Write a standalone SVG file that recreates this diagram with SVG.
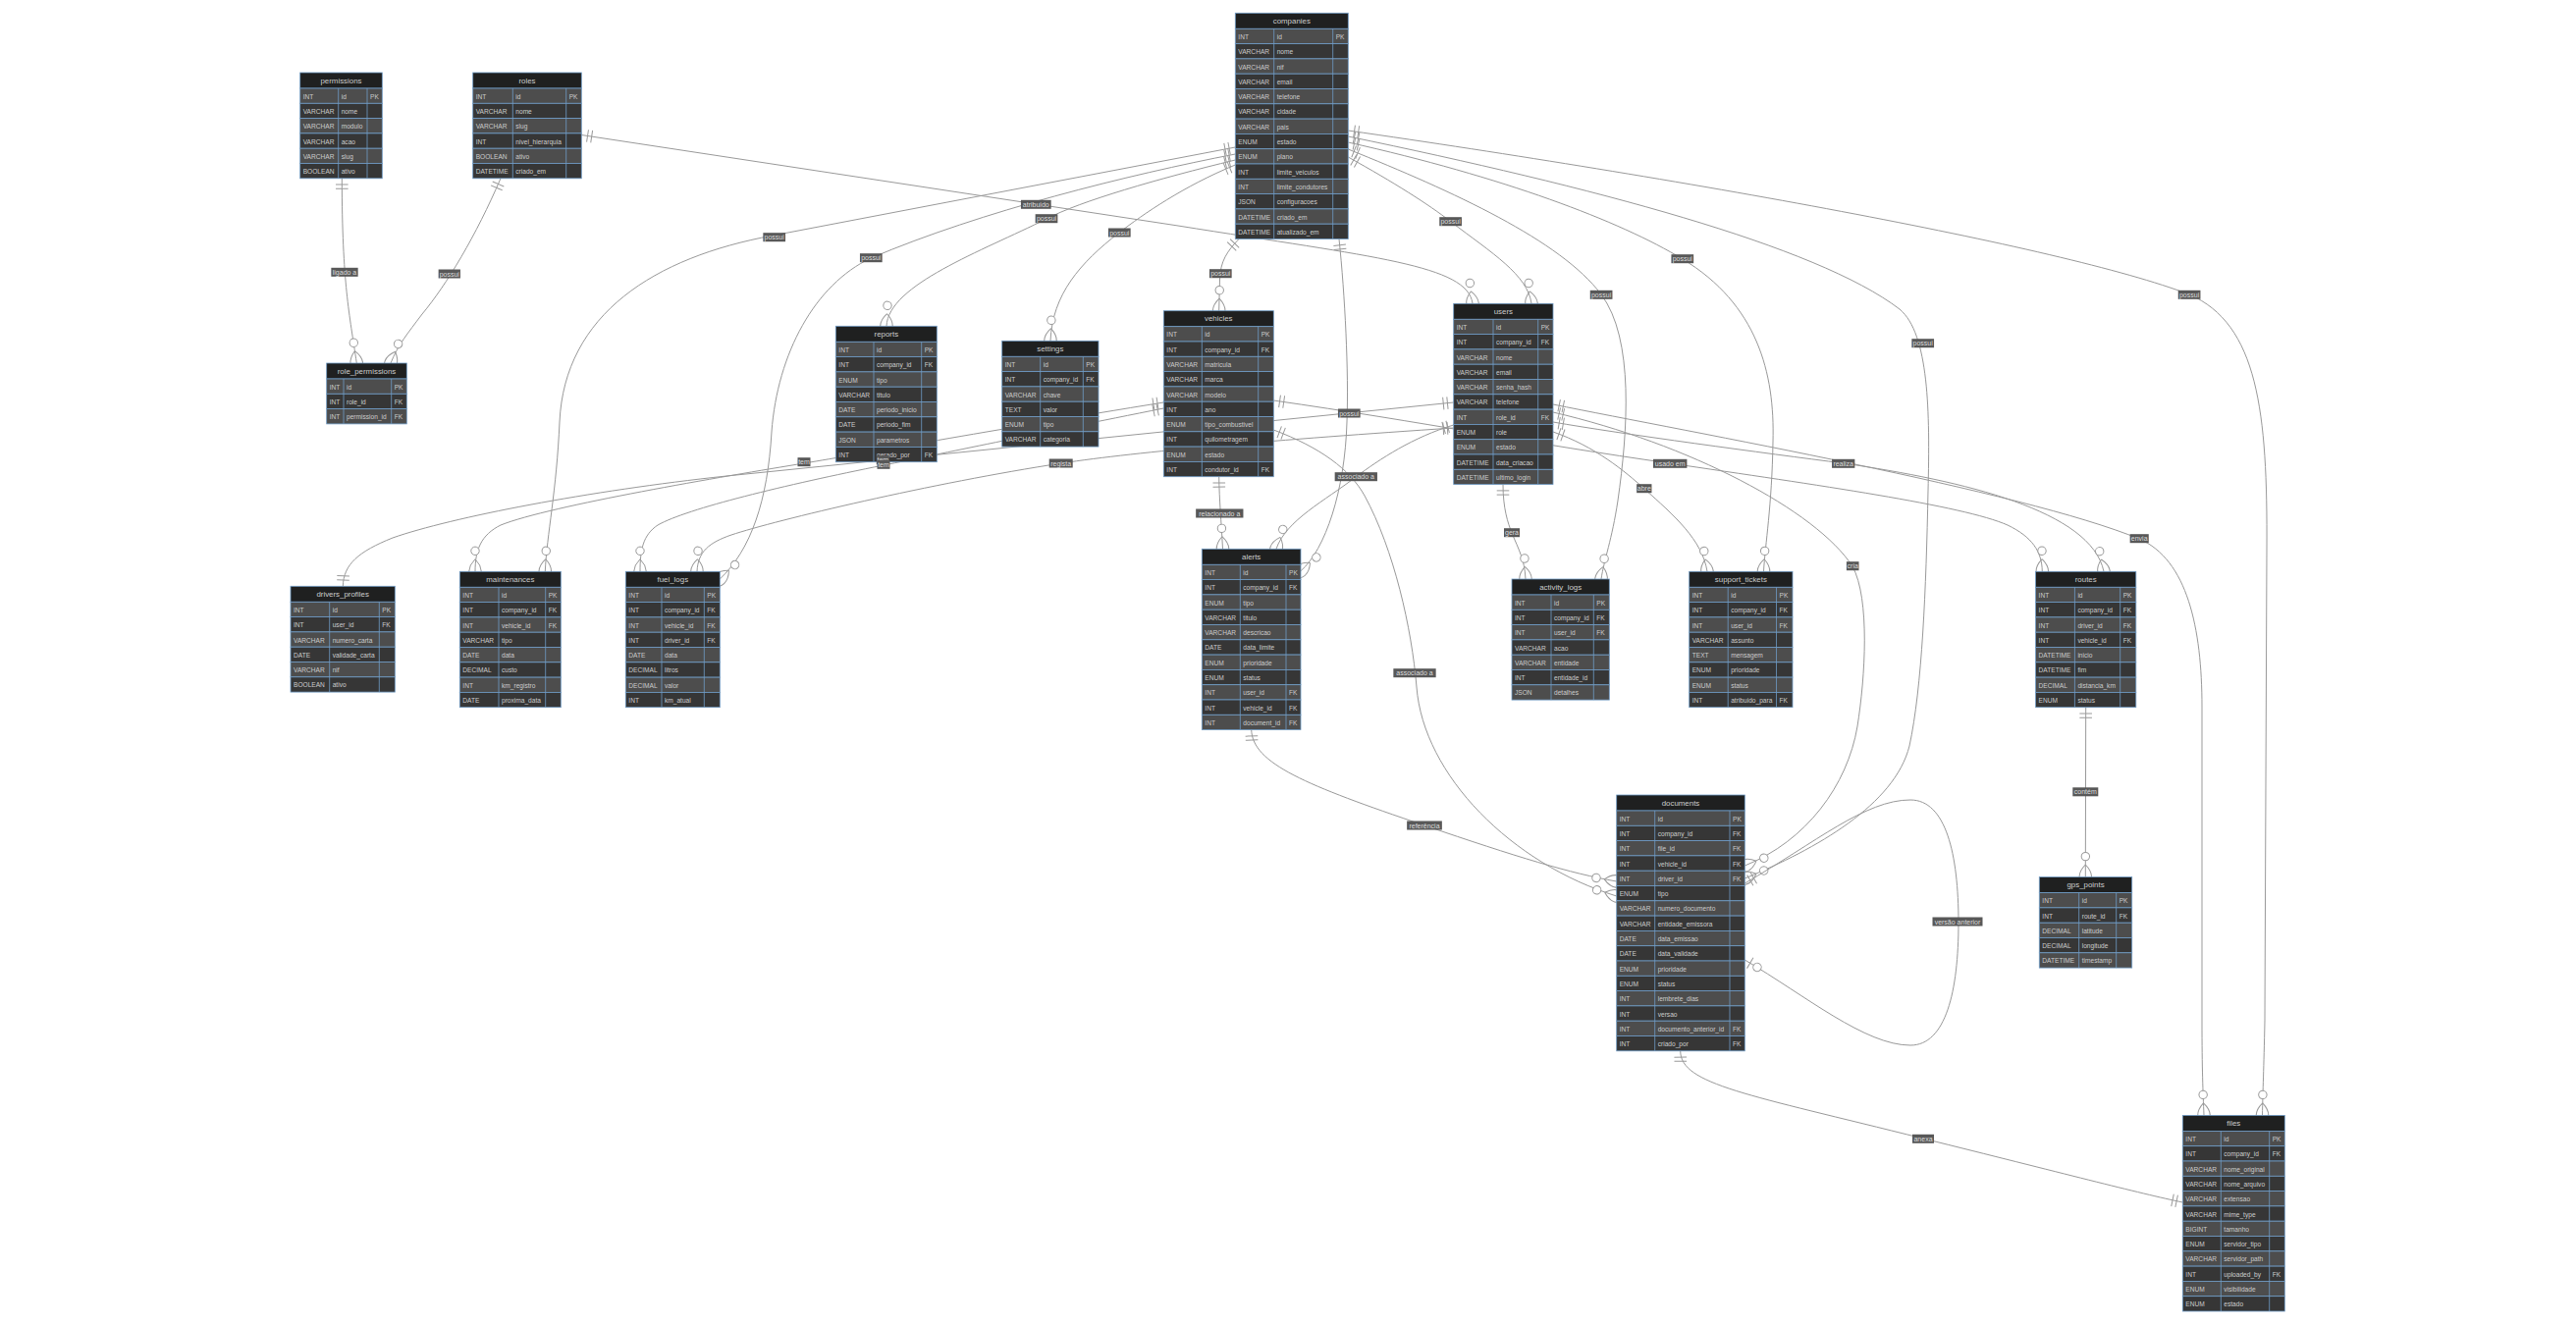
<svg xmlns="http://www.w3.org/2000/svg" width="2624" height="1350" viewBox="0 0 2624 1350">
<style>
.hd{fill:#1f2020;stroke:#6f9cc6;stroke-width:.8}
.o{fill:#4d4d4d;stroke:#6f9cc6;stroke-width:.8}
.e{fill:#363636;stroke:#6f9cc6;stroke-width:.8}
.dv{fill:none;stroke:#6f9cc6;stroke-width:.8}
.ht{font-family:"Liberation Sans",Arial,sans-serif;font-size:7.9px;fill:#cccccc;text-anchor:middle;dominant-baseline:central}
.t{font-family:"Liberation Sans",Arial,sans-serif;font-size:6.6px;fill:#cccccc;dominant-baseline:central}
.c path{fill:none;stroke:#999999;stroke-width:1}
.mk{fill:none;stroke:#999999;stroke-width:1}
.mc{fill:#ffffff;stroke:#999999;stroke-width:1}
.lb rect{fill:#585858}
.lb text{font-family:"Liberation Sans",Arial,sans-serif;font-size:7px;fill:#dddddd;text-anchor:middle;dominant-baseline:central}
</style>
<defs>
<marker id="mOne" markerUnits="userSpaceOnUse" orient="auto" overflow="visible" markerWidth="20" markerHeight="20" refX="0" refY="0"><path class="mk" d="M6.3,-6.3V6.3M10.5,-6.3V6.3"/></marker>
<marker id="mOneEnd" markerUnits="userSpaceOnUse" orient="auto" overflow="visible" markerWidth="20" markerHeight="20" refX="0" refY="0"><path class="mk" d="M-6.3,-6.3V6.3M-10.5,-6.3V6.3"/></marker>
<marker id="mMany" markerUnits="userSpaceOnUse" orient="auto" overflow="visible" markerWidth="40" markerHeight="40" refX="0" refY="0"><path class="mk" d="M-12.6,0Q0,-12.6 12.6,0Q0,12.6 -12.6,0"/><circle class="mc" cx="-21" cy="0" r="4.2"/></marker>
<marker id="mZeroOne" markerUnits="userSpaceOnUse" orient="auto" overflow="visible" markerWidth="30" markerHeight="30" refX="0" refY="0"><path class="mk" d="M-6.3,-6.3V6.3"/><circle class="mc" cx="-14.7" cy="0" r="4.2"/></marker>
</defs>
<rect width="2624" height="1350" fill="#ffffff"/>
<g id="connectors" class="c">
<path d="M348.3,181.7 C348.5,290 356,320 363.3,370" marker-start="url(#mOne)" marker-end="url(#mMany)"/>
<path d="M510,181.7 C485,240 455,290 430,320 C415,340 405,352 398,370" marker-start="url(#mOne)" marker-end="url(#mMany)"/>
<path d="M592.3,137.5 L1200,230 C1400,262 1495,270 1500,309.3" marker-start="url(#mOne)" marker-end="url(#mMany)"/>
<path d="M1258.3,150 L787,240 C667,262 575,320 570,430 C567,500 557,545 555.3,582.3" marker-start="url(#mOne)" marker-end="url(#mMany)"/>
<path d="M1258.3,157 C1150,178 1000,215 887,263 C830,290 792,360 786,440 C782,510 765,560 733.3,590" marker-start="url(#mOne)" marker-end="url(#mMany)"/>
<path d="M1258.3,163 C1180,182 1100,205 1066,223 C1000,256 905,290 903,332.3" marker-start="url(#mOne)" marker-end="url(#mMany)"/>
<path d="M1258.3,168 C1205,190 1165,218 1140,237 C1100,268 1072,300 1070,347.3" marker-start="url(#mOne)" marker-end="url(#mMany)"/>
<path d="M1262,243.5 C1250,256 1243,266 1242.5,285 L1241.7,316.7" marker-start="url(#mOne)" marker-end="url(#mMany)"/>
<path d="M1373.3,160 C1420,186 1455,208 1478,226 C1520,258 1556,280 1560,309.3" marker-start="url(#mOne)" marker-end="url(#mMany)"/>
<path d="M1373.3,152 C1480,195 1590,245 1631,300 C1665,345 1658,440 1648,510 C1642,550 1634,570 1631,590" marker-start="url(#mOne)" marker-end="url(#mMany)"/>
<path d="M1373.3,145 C1530,180 1650,225 1714,264 C1790,310 1808,380 1806,450 C1805,515 1798,555 1796.5,582.3" marker-start="url(#mOne)" marker-end="url(#mMany)"/>
<path d="M1373.3,139 C1620,190 1850,250 1935,315 C1965,340 1966,420 1964,500 C1962,600 1958,700 1945,760 C1930,820 1850,865 1777.3,895" marker-start="url(#mOne)" marker-end="url(#mMany)"/>
<path d="M1373.3,133 C1700,180 2100,250 2230,300 C2300,330 2310,420 2309,560 L2307,1040 C2306,1090 2305,1110 2304.5,1136.4" marker-start="url(#mOne)" marker-end="url(#mMany)"/>
<path d="M1364,243.5 C1370,300 1374,380 1372,430 C1370,500 1350,560 1325,581.7" marker-start="url(#mOne)" marker-end="url(#mMany)"/>
<path d="M1241.7,485.7 C1242,510 1244,530 1245.5,559.3" marker-start="url(#mOne)" marker-end="url(#mMany)"/>
<path d="M1480.7,433 C1440,445 1405,468 1381,486 C1350,510 1310,530 1300,559.3" marker-start="url(#mOne)" marker-end="url(#mMany)"/>
<path d="M1297.3,438 C1345,456 1375,478 1390,505 C1420,560 1438,640 1443,700 C1450,790 1540,880 1646.7,913" marker-start="url(#mOne)" marker-end="url(#mMany)"/>
<path d="M1274.7,743.6 C1276,778 1330,800 1451,841 C1545,873 1600,890 1646.7,898" marker-start="url(#mOne)" marker-end="url(#mMany)"/>
<path d="M1480.7,410 L740,485 C600,500 460,527 400,548 C365,562 350,575 349.3,597.3" marker-start="url(#mOne)" marker-end="url(#mOneEnd)"/>
<path d="M1185.3,410 C1000,440 880,462 819,472 C740,485 560,515 510,535 C490,545 484,560 484,582.3" marker-start="url(#mOne)" marker-end="url(#mMany)"/>
<path d="M1185.3,416 C1050,443 960,462 900,474 C800,494 700,518 670,535 C655,545 652,560 652,582.3" marker-start="url(#mOne)" marker-end="url(#mMany)"/>
<path d="M1480.7,436 C1300,448 1160,460 1081,472 C950,492 790,530 745,545 C722,553 711,562 710,582.3" marker-start="url(#mOne)" marker-end="url(#mMany)"/>
<path d="M1531,493.6 C1531,518 1536,533 1540,543 C1547,560 1553,570 1554,590" marker-start="url(#mOne)" marker-end="url(#mMany)"/>
<path d="M1582,440 C1625,455 1655,480 1675,498 C1705,525 1734,550 1739,582.3" marker-start="url(#mOne)" marker-end="url(#mMany)"/>
<path d="M1582,430 C1650,442 1800,462 1878,472 C2000,490 2130,520 2143,582.3" marker-start="url(#mOne)" marker-end="url(#mMany)"/>
<path d="M1297.3,408 C1450,430 1560,452 1701,472 C1850,494 2000,515 2045,535 C2070,547 2080,562 2080.3,582.3" marker-start="url(#mOne)" marker-end="url(#mMany)"/>
<path d="M1582,420 C1720,452 1850,520 1887,577 C1905,610 1900,690 1892,740 C1882,800 1840,857 1777.3,882" marker-start="url(#mOne)" marker-end="url(#mMany)"/>
<path d="M1582,412 C1720,440 2060,500 2179,549 C2228,570 2243,640 2243,720 L2243,1040 C2243,1090 2244,1112 2245,1136.4" marker-start="url(#mOne)" marker-end="url(#mMany)"/>
<path d="M2124.7,720.7 L2124.3,893.6" marker-start="url(#mOne)" marker-end="url(#mMany)"/>
<path d="M1711.7,1070.8 C1712,1105 1780,1115 1959,1160 C2100,1195 2180,1216 2223.3,1225" marker-start="url(#mOne)" marker-end="url(#mOneEnd)"/>
<path d="M1777.3,900 C1850,858 1900,815 1946,815 C1982,815 1995,870 1995,940 C1995,1010 1982,1065 1946,1065 C1900,1065 1840,1015 1777.3,978" marker-start="url(#mOne)" marker-end="url(#mZeroOne)"/>
</g>
<g id="permissions" transform="translate(305.7,74)">
<rect class="hd" width="83.6" height="16"/><text class="ht" x="41.8" y="8">permissions</text>
<rect class="o" y="16" width="83.6" height="15.3"/><text class="t" y="23.65"><tspan x="3">INT</tspan><tspan x="42">id</tspan><tspan x="71.3">PK</tspan></text>
<rect class="e" y="31.3" width="83.6" height="15.3"/><text class="t" y="38.95"><tspan x="3">VARCHAR</tspan><tspan x="42">nome</tspan></text>
<rect class="o" y="46.6" width="83.6" height="15.3"/><text class="t" y="54.25"><tspan x="3">VARCHAR</tspan><tspan x="42">modulo</tspan></text>
<rect class="e" y="61.9" width="83.6" height="15.3"/><text class="t" y="69.55"><tspan x="3">VARCHAR</tspan><tspan x="42">acao</tspan></text>
<rect class="o" y="77.2" width="83.6" height="15.3"/><text class="t" y="84.85"><tspan x="3">VARCHAR</tspan><tspan x="42">slug</tspan></text>
<rect class="e" y="92.5" width="83.6" height="15.3"/><text class="t" y="100.15"><tspan x="3">BOOLEAN</tspan><tspan x="42">ativo</tspan></text>
<path class="dv" d="M39,16V107.8M68.3,16V107.8"/>
</g>
<g id="roles" transform="translate(481.7,74)">
<rect class="hd" width="110.6" height="16"/><text class="ht" x="55.3" y="8">roles</text>
<rect class="o" y="16" width="110.6" height="15.3"/><text class="t" y="23.65"><tspan x="3">INT</tspan><tspan x="43.6">id</tspan><tspan x="98">PK</tspan></text>
<rect class="e" y="31.3" width="110.6" height="15.3"/><text class="t" y="38.95"><tspan x="3">VARCHAR</tspan><tspan x="43.6">nome</tspan></text>
<rect class="o" y="46.6" width="110.6" height="15.3"/><text class="t" y="54.25"><tspan x="3">VARCHAR</tspan><tspan x="43.6">slug</tspan></text>
<rect class="e" y="61.9" width="110.6" height="15.3"/><text class="t" y="69.55"><tspan x="3">INT</tspan><tspan x="43.6">nivel_hierarquia</tspan></text>
<rect class="o" y="77.2" width="110.6" height="15.3"/><text class="t" y="84.85"><tspan x="3">BOOLEAN</tspan><tspan x="43.6">ativo</tspan></text>
<rect class="e" y="92.5" width="110.6" height="15.3"/><text class="t" y="100.15"><tspan x="3">DATETIME</tspan><tspan x="43.6">criado_em</tspan></text>
<path class="dv" d="M40.6,16V107.8M95,16V107.8"/>
</g>
<g id="role_permissions" transform="translate(332.7,370)">
<rect class="hd" width="81.6" height="16"/><text class="ht" x="40.8" y="8">role_permissions</text>
<rect class="o" y="16" width="81.6" height="15.3"/><text class="t" y="23.65"><tspan x="3">INT</tspan><tspan x="20.3">id</tspan><tspan x="69">PK</tspan></text>
<rect class="e" y="31.3" width="81.6" height="15.3"/><text class="t" y="38.95"><tspan x="3">INT</tspan><tspan x="20.3">role_id</tspan><tspan x="69">FK</tspan></text>
<rect class="o" y="46.6" width="81.6" height="15.3"/><text class="t" y="54.25"><tspan x="3">INT</tspan><tspan x="20.3">permission_id</tspan><tspan x="69">FK</tspan></text>
<path class="dv" d="M17.3,16V61.9M66,16V61.9"/>
</g>
<g id="companies" transform="translate(1258.3,13.3)">
<rect class="hd" width="115" height="16"/><text class="ht" x="57.5" y="8">companies</text>
<rect class="o" y="16" width="115" height="15.3"/><text class="t" y="23.65"><tspan x="3">INT</tspan><tspan x="42.4">id</tspan><tspan x="102.4">PK</tspan></text>
<rect class="e" y="31.3" width="115" height="15.3"/><text class="t" y="38.95"><tspan x="3">VARCHAR</tspan><tspan x="42.4">nome</tspan></text>
<rect class="o" y="46.6" width="115" height="15.3"/><text class="t" y="54.25"><tspan x="3">VARCHAR</tspan><tspan x="42.4">nif</tspan></text>
<rect class="e" y="61.9" width="115" height="15.3"/><text class="t" y="69.55"><tspan x="3">VARCHAR</tspan><tspan x="42.4">email</tspan></text>
<rect class="o" y="77.2" width="115" height="15.3"/><text class="t" y="84.85"><tspan x="3">VARCHAR</tspan><tspan x="42.4">telefone</tspan></text>
<rect class="e" y="92.5" width="115" height="15.3"/><text class="t" y="100.15"><tspan x="3">VARCHAR</tspan><tspan x="42.4">cidade</tspan></text>
<rect class="o" y="107.8" width="115" height="15.3"/><text class="t" y="115.45"><tspan x="3">VARCHAR</tspan><tspan x="42.4">pais</tspan></text>
<rect class="e" y="123.1" width="115" height="15.3"/><text class="t" y="130.75"><tspan x="3">ENUM</tspan><tspan x="42.4">estado</tspan></text>
<rect class="o" y="138.4" width="115" height="15.3"/><text class="t" y="146.05"><tspan x="3">ENUM</tspan><tspan x="42.4">plano</tspan></text>
<rect class="e" y="153.7" width="115" height="15.3"/><text class="t" y="161.35"><tspan x="3">INT</tspan><tspan x="42.4">limite_veiculos</tspan></text>
<rect class="o" y="169" width="115" height="15.3"/><text class="t" y="176.65"><tspan x="3">INT</tspan><tspan x="42.4">limite_condutores</tspan></text>
<rect class="e" y="184.3" width="115" height="15.3"/><text class="t" y="191.95"><tspan x="3">JSON</tspan><tspan x="42.4">configuracoes</tspan></text>
<rect class="o" y="199.6" width="115" height="15.3"/><text class="t" y="207.25"><tspan x="3">DATETIME</tspan><tspan x="42.4">criado_em</tspan></text>
<rect class="e" y="214.9" width="115" height="15.3"/><text class="t" y="222.55"><tspan x="3">DATETIME</tspan><tspan x="42.4">atualizado_em</tspan></text>
<path class="dv" d="M39.4,16V230.2M99.4,16V230.2"/>
</g>
<g id="reports" transform="translate(851.3,332.3)">
<rect class="hd" width="103" height="16"/><text class="ht" x="51.5" y="8">reports</text>
<rect class="o" y="16" width="103" height="15.3"/><text class="t" y="23.65"><tspan x="3">INT</tspan><tspan x="41.7">id</tspan><tspan x="90.4">PK</tspan></text>
<rect class="e" y="31.3" width="103" height="15.3"/><text class="t" y="38.95"><tspan x="3">INT</tspan><tspan x="41.7">company_id</tspan><tspan x="90.4">FK</tspan></text>
<rect class="o" y="46.6" width="103" height="15.3"/><text class="t" y="54.25"><tspan x="3">ENUM</tspan><tspan x="41.7">tipo</tspan></text>
<rect class="e" y="61.9" width="103" height="15.3"/><text class="t" y="69.55"><tspan x="3">VARCHAR</tspan><tspan x="41.7">titulo</tspan></text>
<rect class="o" y="77.2" width="103" height="15.3"/><text class="t" y="84.85"><tspan x="3">DATE</tspan><tspan x="41.7">periodo_inicio</tspan></text>
<rect class="e" y="92.5" width="103" height="15.3"/><text class="t" y="100.15"><tspan x="3">DATE</tspan><tspan x="41.7">periodo_fim</tspan></text>
<rect class="o" y="107.8" width="103" height="15.3"/><text class="t" y="115.45"><tspan x="3">JSON</tspan><tspan x="41.7">parametros</tspan></text>
<rect class="e" y="123.1" width="103" height="15.3"/><text class="t" y="130.75"><tspan x="3">INT</tspan><tspan x="41.7">gerado_por</tspan><tspan x="90.4">FK</tspan></text>
<path class="dv" d="M38.7,16V138.4M87.4,16V138.4"/>
</g>
<g id="settings" transform="translate(1020.7,347.3)">
<rect class="hd" width="98.3" height="16"/><text class="ht" x="49.15" y="8">settings</text>
<rect class="o" y="16" width="98.3" height="15.3"/><text class="t" y="23.65"><tspan x="3">INT</tspan><tspan x="42">id</tspan><tspan x="85.6">PK</tspan></text>
<rect class="e" y="31.3" width="98.3" height="15.3"/><text class="t" y="38.95"><tspan x="3">INT</tspan><tspan x="42">company_id</tspan><tspan x="85.6">FK</tspan></text>
<rect class="o" y="46.6" width="98.3" height="15.3"/><text class="t" y="54.25"><tspan x="3">VARCHAR</tspan><tspan x="42">chave</tspan></text>
<rect class="e" y="61.9" width="98.3" height="15.3"/><text class="t" y="69.55"><tspan x="3">TEXT</tspan><tspan x="42">valor</tspan></text>
<rect class="o" y="77.2" width="98.3" height="15.3"/><text class="t" y="84.85"><tspan x="3">ENUM</tspan><tspan x="42">tipo</tspan></text>
<rect class="e" y="92.5" width="98.3" height="15.3"/><text class="t" y="100.15"><tspan x="3">VARCHAR</tspan><tspan x="42">categoria</tspan></text>
<path class="dv" d="M39,16V107.8M82.6,16V107.8"/>
</g>
<g id="vehicles" transform="translate(1185.3,316.7)">
<rect class="hd" width="112" height="16"/><text class="ht" x="56" y="8">vehicles</text>
<rect class="o" y="16" width="112" height="15.3"/><text class="t" y="23.65"><tspan x="3">INT</tspan><tspan x="42">id</tspan><tspan x="99.4">PK</tspan></text>
<rect class="e" y="31.3" width="112" height="15.3"/><text class="t" y="38.95"><tspan x="3">INT</tspan><tspan x="42">company_id</tspan><tspan x="99.4">FK</tspan></text>
<rect class="o" y="46.6" width="112" height="15.3"/><text class="t" y="54.25"><tspan x="3">VARCHAR</tspan><tspan x="42">matricula</tspan></text>
<rect class="e" y="61.9" width="112" height="15.3"/><text class="t" y="69.55"><tspan x="3">VARCHAR</tspan><tspan x="42">marca</tspan></text>
<rect class="o" y="77.2" width="112" height="15.3"/><text class="t" y="84.85"><tspan x="3">VARCHAR</tspan><tspan x="42">modelo</tspan></text>
<rect class="e" y="92.5" width="112" height="15.3"/><text class="t" y="100.15"><tspan x="3">INT</tspan><tspan x="42">ano</tspan></text>
<rect class="o" y="107.8" width="112" height="15.3"/><text class="t" y="115.45"><tspan x="3">ENUM</tspan><tspan x="42">tipo_combustivel</tspan></text>
<rect class="e" y="123.1" width="112" height="15.3"/><text class="t" y="130.75"><tspan x="3">INT</tspan><tspan x="42">quilometragem</tspan></text>
<rect class="o" y="138.4" width="112" height="15.3"/><text class="t" y="146.05"><tspan x="3">ENUM</tspan><tspan x="42">estado</tspan></text>
<rect class="e" y="153.7" width="112" height="15.3"/><text class="t" y="161.35"><tspan x="3">INT</tspan><tspan x="42">condutor_id</tspan><tspan x="99.4">FK</tspan></text>
<path class="dv" d="M39,16V169M96.4,16V169"/>
</g>
<g id="users" transform="translate(1480.7,309.3)">
<rect class="hd" width="101.3" height="16"/><text class="ht" x="50.65" y="8">users</text>
<rect class="o" y="16" width="101.3" height="15.3"/><text class="t" y="23.65"><tspan x="3">INT</tspan><tspan x="43.3">id</tspan><tspan x="89">PK</tspan></text>
<rect class="e" y="31.3" width="101.3" height="15.3"/><text class="t" y="38.95"><tspan x="3">INT</tspan><tspan x="43.3">company_id</tspan><tspan x="89">FK</tspan></text>
<rect class="o" y="46.6" width="101.3" height="15.3"/><text class="t" y="54.25"><tspan x="3">VARCHAR</tspan><tspan x="43.3">nome</tspan></text>
<rect class="e" y="61.9" width="101.3" height="15.3"/><text class="t" y="69.55"><tspan x="3">VARCHAR</tspan><tspan x="43.3">email</tspan></text>
<rect class="o" y="77.2" width="101.3" height="15.3"/><text class="t" y="84.85"><tspan x="3">VARCHAR</tspan><tspan x="43.3">senha_hash</tspan></text>
<rect class="e" y="92.5" width="101.3" height="15.3"/><text class="t" y="100.15"><tspan x="3">VARCHAR</tspan><tspan x="43.3">telefone</tspan></text>
<rect class="o" y="107.8" width="101.3" height="15.3"/><text class="t" y="115.45"><tspan x="3">INT</tspan><tspan x="43.3">role_id</tspan><tspan x="89">FK</tspan></text>
<rect class="e" y="123.1" width="101.3" height="15.3"/><text class="t" y="130.75"><tspan x="3">ENUM</tspan><tspan x="43.3">role</tspan></text>
<rect class="o" y="138.4" width="101.3" height="15.3"/><text class="t" y="146.05"><tspan x="3">ENUM</tspan><tspan x="43.3">estado</tspan></text>
<rect class="e" y="153.7" width="101.3" height="15.3"/><text class="t" y="161.35"><tspan x="3">DATETIME</tspan><tspan x="43.3">data_criacao</tspan></text>
<rect class="o" y="169" width="101.3" height="15.3"/><text class="t" y="176.65"><tspan x="3">DATETIME</tspan><tspan x="43.3">ultimo_login</tspan></text>
<path class="dv" d="M40.3,16V184.3M86,16V184.3"/>
</g>
<g id="drivers_profiles" transform="translate(296,597.3)">
<rect class="hd" width="106.3" height="16"/><text class="ht" x="53.15" y="8">drivers_profiles</text>
<rect class="o" y="16" width="106.3" height="15.3"/><text class="t" y="23.65"><tspan x="3">INT</tspan><tspan x="42.7">id</tspan><tspan x="93.3">PK</tspan></text>
<rect class="e" y="31.3" width="106.3" height="15.3"/><text class="t" y="38.95"><tspan x="3">INT</tspan><tspan x="42.7">user_id</tspan><tspan x="93.3">FK</tspan></text>
<rect class="o" y="46.6" width="106.3" height="15.3"/><text class="t" y="54.25"><tspan x="3">VARCHAR</tspan><tspan x="42.7">numero_carta</tspan></text>
<rect class="e" y="61.9" width="106.3" height="15.3"/><text class="t" y="69.55"><tspan x="3">DATE</tspan><tspan x="42.7">validade_carta</tspan></text>
<rect class="o" y="77.2" width="106.3" height="15.3"/><text class="t" y="84.85"><tspan x="3">VARCHAR</tspan><tspan x="42.7">nif</tspan></text>
<rect class="e" y="92.5" width="106.3" height="15.3"/><text class="t" y="100.15"><tspan x="3">BOOLEAN</tspan><tspan x="42.7">ativo</tspan></text>
<path class="dv" d="M39.7,16V107.8M90.3,16V107.8"/>
</g>
<g id="maintenances" transform="translate(468.3,582.3)">
<rect class="hd" width="103" height="16"/><text class="ht" x="51.5" y="8">maintenances</text>
<rect class="o" y="16" width="103" height="15.3"/><text class="t" y="23.65"><tspan x="3">INT</tspan><tspan x="42.7">id</tspan><tspan x="90.4">PK</tspan></text>
<rect class="e" y="31.3" width="103" height="15.3"/><text class="t" y="38.95"><tspan x="3">INT</tspan><tspan x="42.7">company_id</tspan><tspan x="90.4">FK</tspan></text>
<rect class="o" y="46.6" width="103" height="15.3"/><text class="t" y="54.25"><tspan x="3">INT</tspan><tspan x="42.7">vehicle_id</tspan><tspan x="90.4">FK</tspan></text>
<rect class="e" y="61.9" width="103" height="15.3"/><text class="t" y="69.55"><tspan x="3">VARCHAR</tspan><tspan x="42.7">tipo</tspan></text>
<rect class="o" y="77.2" width="103" height="15.3"/><text class="t" y="84.85"><tspan x="3">DATE</tspan><tspan x="42.7">data</tspan></text>
<rect class="e" y="92.5" width="103" height="15.3"/><text class="t" y="100.15"><tspan x="3">DECIMAL</tspan><tspan x="42.7">custo</tspan></text>
<rect class="o" y="107.8" width="103" height="15.3"/><text class="t" y="115.45"><tspan x="3">INT</tspan><tspan x="42.7">km_registro</tspan></text>
<rect class="e" y="123.1" width="103" height="15.3"/><text class="t" y="130.75"><tspan x="3">DATE</tspan><tspan x="42.7">proxima_data</tspan></text>
<path class="dv" d="M39.7,16V138.4M87.4,16V138.4"/>
</g>
<g id="fuel_logs" transform="translate(637.3,582.3)">
<rect class="hd" width="96" height="16"/><text class="ht" x="48" y="8">fuel_logs</text>
<rect class="o" y="16" width="96" height="15.3"/><text class="t" y="23.65"><tspan x="3">INT</tspan><tspan x="39.7">id</tspan><tspan x="83">PK</tspan></text>
<rect class="e" y="31.3" width="96" height="15.3"/><text class="t" y="38.95"><tspan x="3">INT</tspan><tspan x="39.7">company_id</tspan><tspan x="83">FK</tspan></text>
<rect class="o" y="46.6" width="96" height="15.3"/><text class="t" y="54.25"><tspan x="3">INT</tspan><tspan x="39.7">vehicle_id</tspan><tspan x="83">FK</tspan></text>
<rect class="e" y="61.9" width="96" height="15.3"/><text class="t" y="69.55"><tspan x="3">INT</tspan><tspan x="39.7">driver_id</tspan><tspan x="83">FK</tspan></text>
<rect class="o" y="77.2" width="96" height="15.3"/><text class="t" y="84.85"><tspan x="3">DATE</tspan><tspan x="39.7">data</tspan></text>
<rect class="e" y="92.5" width="96" height="15.3"/><text class="t" y="100.15"><tspan x="3">DECIMAL</tspan><tspan x="39.7">litros</tspan></text>
<rect class="o" y="107.8" width="96" height="15.3"/><text class="t" y="115.45"><tspan x="3">DECIMAL</tspan><tspan x="39.7">valor</tspan></text>
<rect class="e" y="123.1" width="96" height="15.3"/><text class="t" y="130.75"><tspan x="3">INT</tspan><tspan x="39.7">km_atual</tspan></text>
<path class="dv" d="M36.7,16V138.4M80,16V138.4"/>
</g>
<g id="alerts" transform="translate(1224.3,559.3)">
<rect class="hd" width="100.7" height="16"/><text class="ht" x="50.35" y="8">alerts</text>
<rect class="o" y="16" width="100.7" height="15.3"/><text class="t" y="23.65"><tspan x="3">INT</tspan><tspan x="42">id</tspan><tspan x="88.7">PK</tspan></text>
<rect class="e" y="31.3" width="100.7" height="15.3"/><text class="t" y="38.95"><tspan x="3">INT</tspan><tspan x="42">company_id</tspan><tspan x="88.7">FK</tspan></text>
<rect class="o" y="46.6" width="100.7" height="15.3"/><text class="t" y="54.25"><tspan x="3">ENUM</tspan><tspan x="42">tipo</tspan></text>
<rect class="e" y="61.9" width="100.7" height="15.3"/><text class="t" y="69.55"><tspan x="3">VARCHAR</tspan><tspan x="42">titulo</tspan></text>
<rect class="o" y="77.2" width="100.7" height="15.3"/><text class="t" y="84.85"><tspan x="3">VARCHAR</tspan><tspan x="42">descricao</tspan></text>
<rect class="e" y="92.5" width="100.7" height="15.3"/><text class="t" y="100.15"><tspan x="3">DATE</tspan><tspan x="42">data_limite</tspan></text>
<rect class="o" y="107.8" width="100.7" height="15.3"/><text class="t" y="115.45"><tspan x="3">ENUM</tspan><tspan x="42">prioridade</tspan></text>
<rect class="e" y="123.1" width="100.7" height="15.3"/><text class="t" y="130.75"><tspan x="3">ENUM</tspan><tspan x="42">status</tspan></text>
<rect class="o" y="138.4" width="100.7" height="15.3"/><text class="t" y="146.05"><tspan x="3">INT</tspan><tspan x="42">user_id</tspan><tspan x="88.7">FK</tspan></text>
<rect class="e" y="153.7" width="100.7" height="15.3"/><text class="t" y="161.35"><tspan x="3">INT</tspan><tspan x="42">vehicle_id</tspan><tspan x="88.7">FK</tspan></text>
<rect class="o" y="169" width="100.7" height="15.3"/><text class="t" y="176.65"><tspan x="3">INT</tspan><tspan x="42">document_id</tspan><tspan x="88.7">FK</tspan></text>
<path class="dv" d="M39,16V184.3M85.7,16V184.3"/>
</g>
<g id="activity_logs" transform="translate(1540,590)">
<rect class="hd" width="99.3" height="16"/><text class="ht" x="49.65" y="8">activity_logs</text>
<rect class="o" y="16" width="99.3" height="15.3"/><text class="t" y="23.65"><tspan x="3">INT</tspan><tspan x="43">id</tspan><tspan x="86.3">PK</tspan></text>
<rect class="e" y="31.3" width="99.3" height="15.3"/><text class="t" y="38.95"><tspan x="3">INT</tspan><tspan x="43">company_id</tspan><tspan x="86.3">FK</tspan></text>
<rect class="o" y="46.6" width="99.3" height="15.3"/><text class="t" y="54.25"><tspan x="3">INT</tspan><tspan x="43">user_id</tspan><tspan x="86.3">FK</tspan></text>
<rect class="e" y="61.9" width="99.3" height="15.3"/><text class="t" y="69.55"><tspan x="3">VARCHAR</tspan><tspan x="43">acao</tspan></text>
<rect class="o" y="77.2" width="99.3" height="15.3"/><text class="t" y="84.85"><tspan x="3">VARCHAR</tspan><tspan x="43">entidade</tspan></text>
<rect class="e" y="92.5" width="99.3" height="15.3"/><text class="t" y="100.15"><tspan x="3">INT</tspan><tspan x="43">entidade_id</tspan></text>
<rect class="o" y="107.8" width="99.3" height="15.3"/><text class="t" y="115.45"><tspan x="3">JSON</tspan><tspan x="43">detalhes</tspan></text>
<path class="dv" d="M40,16V123.1M83.3,16V123.1"/>
</g>
<g id="support_tickets" transform="translate(1720.7,582.3)">
<rect class="hd" width="105.3" height="16"/><text class="ht" x="52.65" y="8">support_tickets</text>
<rect class="o" y="16" width="105.3" height="15.3"/><text class="t" y="23.65"><tspan x="3">INT</tspan><tspan x="42.5">id</tspan><tspan x="91.8">PK</tspan></text>
<rect class="e" y="31.3" width="105.3" height="15.3"/><text class="t" y="38.95"><tspan x="3">INT</tspan><tspan x="42.5">company_id</tspan><tspan x="91.8">FK</tspan></text>
<rect class="o" y="46.6" width="105.3" height="15.3"/><text class="t" y="54.25"><tspan x="3">INT</tspan><tspan x="42.5">user_id</tspan><tspan x="91.8">FK</tspan></text>
<rect class="e" y="61.9" width="105.3" height="15.3"/><text class="t" y="69.55"><tspan x="3">VARCHAR</tspan><tspan x="42.5">assunto</tspan></text>
<rect class="o" y="77.2" width="105.3" height="15.3"/><text class="t" y="84.85"><tspan x="3">TEXT</tspan><tspan x="42.5">mensagem</tspan></text>
<rect class="e" y="92.5" width="105.3" height="15.3"/><text class="t" y="100.15"><tspan x="3">ENUM</tspan><tspan x="42.5">prioridade</tspan></text>
<rect class="o" y="107.8" width="105.3" height="15.3"/><text class="t" y="115.45"><tspan x="3">ENUM</tspan><tspan x="42.5">status</tspan></text>
<rect class="e" y="123.1" width="105.3" height="15.3"/><text class="t" y="130.75"><tspan x="3">INT</tspan><tspan x="42.5">atribuido_para</tspan><tspan x="91.8">FK</tspan></text>
<path class="dv" d="M39.5,16V138.4M88.8,16V138.4"/>
</g>
<g id="routes" transform="translate(2073.6,582.3)">
<rect class="hd" width="102.2" height="16"/><text class="ht" x="51.1" y="8">routes</text>
<rect class="o" y="16" width="102.2" height="15.3"/><text class="t" y="23.65"><tspan x="3">INT</tspan><tspan x="42.8">id</tspan><tspan x="89.1">PK</tspan></text>
<rect class="e" y="31.3" width="102.2" height="15.3"/><text class="t" y="38.95"><tspan x="3">INT</tspan><tspan x="42.8">company_id</tspan><tspan x="89.1">FK</tspan></text>
<rect class="o" y="46.6" width="102.2" height="15.3"/><text class="t" y="54.25"><tspan x="3">INT</tspan><tspan x="42.8">driver_id</tspan><tspan x="89.1">FK</tspan></text>
<rect class="e" y="61.9" width="102.2" height="15.3"/><text class="t" y="69.55"><tspan x="3">INT</tspan><tspan x="42.8">vehicle_id</tspan><tspan x="89.1">FK</tspan></text>
<rect class="o" y="77.2" width="102.2" height="15.3"/><text class="t" y="84.85"><tspan x="3">DATETIME</tspan><tspan x="42.8">inicio</tspan></text>
<rect class="e" y="92.5" width="102.2" height="15.3"/><text class="t" y="100.15"><tspan x="3">DATETIME</tspan><tspan x="42.8">fim</tspan></text>
<rect class="o" y="107.8" width="102.2" height="15.3"/><text class="t" y="115.45"><tspan x="3">DECIMAL</tspan><tspan x="42.8">distancia_km</tspan></text>
<rect class="e" y="123.1" width="102.2" height="15.3"/><text class="t" y="130.75"><tspan x="3">ENUM</tspan><tspan x="42.8">status</tspan></text>
<path class="dv" d="M39.8,16V138.4M86.1,16V138.4"/>
</g>
<g id="documents" transform="translate(1646.7,810)">
<rect class="hd" width="130.6" height="16"/><text class="ht" x="65.3" y="8">documents</text>
<rect class="o" y="16" width="130.6" height="15.3"/><text class="t" y="23.65"><tspan x="3">INT</tspan><tspan x="42">id</tspan><tspan x="118.3">PK</tspan></text>
<rect class="e" y="31.3" width="130.6" height="15.3"/><text class="t" y="38.95"><tspan x="3">INT</tspan><tspan x="42">company_id</tspan><tspan x="118.3">FK</tspan></text>
<rect class="o" y="46.6" width="130.6" height="15.3"/><text class="t" y="54.25"><tspan x="3">INT</tspan><tspan x="42">file_id</tspan><tspan x="118.3">FK</tspan></text>
<rect class="e" y="61.9" width="130.6" height="15.3"/><text class="t" y="69.55"><tspan x="3">INT</tspan><tspan x="42">vehicle_id</tspan><tspan x="118.3">FK</tspan></text>
<rect class="o" y="77.2" width="130.6" height="15.3"/><text class="t" y="84.85"><tspan x="3">INT</tspan><tspan x="42">driver_id</tspan><tspan x="118.3">FK</tspan></text>
<rect class="e" y="92.5" width="130.6" height="15.3"/><text class="t" y="100.15"><tspan x="3">ENUM</tspan><tspan x="42">tipo</tspan></text>
<rect class="o" y="107.8" width="130.6" height="15.3"/><text class="t" y="115.45"><tspan x="3">VARCHAR</tspan><tspan x="42">numero_documento</tspan></text>
<rect class="e" y="123.1" width="130.6" height="15.3"/><text class="t" y="130.75"><tspan x="3">VARCHAR</tspan><tspan x="42">entidade_emissora</tspan></text>
<rect class="o" y="138.4" width="130.6" height="15.3"/><text class="t" y="146.05"><tspan x="3">DATE</tspan><tspan x="42">data_emissao</tspan></text>
<rect class="e" y="153.7" width="130.6" height="15.3"/><text class="t" y="161.35"><tspan x="3">DATE</tspan><tspan x="42">data_validade</tspan></text>
<rect class="o" y="169" width="130.6" height="15.3"/><text class="t" y="176.65"><tspan x="3">ENUM</tspan><tspan x="42">prioridade</tspan></text>
<rect class="e" y="184.3" width="130.6" height="15.3"/><text class="t" y="191.95"><tspan x="3">ENUM</tspan><tspan x="42">status</tspan></text>
<rect class="o" y="199.6" width="130.6" height="15.3"/><text class="t" y="207.25"><tspan x="3">INT</tspan><tspan x="42">lembrete_dias</tspan></text>
<rect class="e" y="214.9" width="130.6" height="15.3"/><text class="t" y="222.55"><tspan x="3">INT</tspan><tspan x="42">versao</tspan></text>
<rect class="o" y="230.2" width="130.6" height="15.3"/><text class="t" y="237.85"><tspan x="3">INT</tspan><tspan x="42">documento_anterior_id</tspan><tspan x="118.3">FK</tspan></text>
<rect class="e" y="245.5" width="130.6" height="15.3"/><text class="t" y="253.15"><tspan x="3">INT</tspan><tspan x="42">criado_por</tspan><tspan x="118.3">FK</tspan></text>
<path class="dv" d="M39,16V260.8M115.3,16V260.8"/>
</g>
<g id="gps_points" transform="translate(2077.3,893.6)">
<rect class="hd" width="94.4" height="16"/><text class="ht" x="47.2" y="8">gps_points</text>
<rect class="o" y="16" width="94.4" height="15.3"/><text class="t" y="23.65"><tspan x="3">INT</tspan><tspan x="43.4">id</tspan><tspan x="81.4">PK</tspan></text>
<rect class="e" y="31.3" width="94.4" height="15.3"/><text class="t" y="38.95"><tspan x="3">INT</tspan><tspan x="43.4">route_id</tspan><tspan x="81.4">FK</tspan></text>
<rect class="o" y="46.6" width="94.4" height="15.3"/><text class="t" y="54.25"><tspan x="3">DECIMAL</tspan><tspan x="43.4">latitude</tspan></text>
<rect class="e" y="61.9" width="94.4" height="15.3"/><text class="t" y="69.55"><tspan x="3">DECIMAL</tspan><tspan x="43.4">longitude</tspan></text>
<rect class="o" y="77.2" width="94.4" height="15.3"/><text class="t" y="84.85"><tspan x="3">DATETIME</tspan><tspan x="43.4">timestamp</tspan></text>
<path class="dv" d="M40.4,16V92.5M78.4,16V92.5"/>
</g>
<g id="files" transform="translate(2223.3,1136.4)">
<rect class="hd" width="104" height="16"/><text class="ht" x="52" y="8">files</text>
<rect class="o" y="16" width="104" height="15.3"/><text class="t" y="23.65"><tspan x="3">INT</tspan><tspan x="42">id</tspan><tspan x="91.4">PK</tspan></text>
<rect class="e" y="31.3" width="104" height="15.3"/><text class="t" y="38.95"><tspan x="3">INT</tspan><tspan x="42">company_id</tspan><tspan x="91.4">FK</tspan></text>
<rect class="o" y="46.6" width="104" height="15.3"/><text class="t" y="54.25"><tspan x="3">VARCHAR</tspan><tspan x="42">nome_original</tspan></text>
<rect class="e" y="61.9" width="104" height="15.3"/><text class="t" y="69.55"><tspan x="3">VARCHAR</tspan><tspan x="42">nome_arquivo</tspan></text>
<rect class="o" y="77.2" width="104" height="15.3"/><text class="t" y="84.85"><tspan x="3">VARCHAR</tspan><tspan x="42">extensao</tspan></text>
<rect class="e" y="92.5" width="104" height="15.3"/><text class="t" y="100.15"><tspan x="3">VARCHAR</tspan><tspan x="42">mime_type</tspan></text>
<rect class="o" y="107.8" width="104" height="15.3"/><text class="t" y="115.45"><tspan x="3">BIGINT</tspan><tspan x="42">tamanho</tspan></text>
<rect class="e" y="123.1" width="104" height="15.3"/><text class="t" y="130.75"><tspan x="3">ENUM</tspan><tspan x="42">servidor_tipo</tspan></text>
<rect class="o" y="138.4" width="104" height="15.3"/><text class="t" y="146.05"><tspan x="3">VARCHAR</tspan><tspan x="42">servidor_path</tspan></text>
<rect class="e" y="153.7" width="104" height="15.3"/><text class="t" y="161.35"><tspan x="3">INT</tspan><tspan x="42">uploaded_by</tspan><tspan x="91.4">FK</tspan></text>
<rect class="o" y="169" width="104" height="15.3"/><text class="t" y="176.65"><tspan x="3">ENUM</tspan><tspan x="42">visibilidade</tspan></text>
<rect class="e" y="184.3" width="104" height="15.3"/><text class="t" y="191.95"><tspan x="3">ENUM</tspan><tspan x="42">estado</tspan></text>
<path class="dv" d="M39,16V199.6M88.4,16V199.6"/>
</g>
<g id="labels">
<g class="lb"><rect x="337.35" y="272.8" width="27.3" height="9"/><text x="351" y="277.3">ligado a</text></g>
<g class="lb"><rect x="446.65" y="274.5" width="22.3" height="9"/><text x="457.8" y="279">possui</text></g>
<g class="lb"><rect x="1039.95" y="203.8" width="30.7" height="9"/><text x="1055.3" y="208.3">atribuido</text></g>
<g class="lb"><rect x="777.35" y="237.2" width="22.7" height="9"/><text x="788.7" y="241.7">possui</text></g>
<g class="lb"><rect x="875.95" y="258.2" width="22.7" height="9"/><text x="887.3" y="262.7">possui</text></g>
<g class="lb"><rect x="1054.65" y="218.2" width="22.7" height="9"/><text x="1066" y="222.7">possui</text></g>
<g class="lb"><rect x="1128.95" y="232.5" width="22.7" height="9"/><text x="1140.3" y="237">possui</text></g>
<g class="lb"><rect x="1231.95" y="274.2" width="22.7" height="9"/><text x="1243.3" y="278.7">possui</text></g>
<g class="lb"><rect x="1466.25" y="221.2" width="22.7" height="9"/><text x="1477.6" y="225.7">possui</text></g>
<g class="lb"><rect x="1619.75" y="295.8" width="22.7" height="9"/><text x="1631.1" y="300.3">possui</text></g>
<g class="lb"><rect x="1702.45" y="259.2" width="22.7" height="9"/><text x="1713.8" y="263.7">possui</text></g>
<g class="lb"><rect x="1947.35" y="345.2" width="22.7" height="9"/><text x="1958.7" y="349.7">possui</text></g>
<g class="lb"><rect x="2218.75" y="295.8" width="22.7" height="9"/><text x="2230.1" y="300.3">possui</text></g>
<g class="lb"><rect x="1362.95" y="416.5" width="22.7" height="9"/><text x="1374.3" y="421">possui</text></g>
<g class="lb"><rect x="1218.15" y="518.5" width="48.3" height="9"/><text x="1242.3" y="523">relacionado a</text></g>
<g class="lb"><rect x="1359.65" y="481.2" width="43.3" height="9"/><text x="1381.3" y="485.7">associado a</text></g>
<g class="lb"><rect x="1419.35" y="681.2" width="43.3" height="9"/><text x="1441" y="685.7">associado a</text></g>
<g class="lb"><rect x="1433.15" y="836.5" width="35.7" height="9"/><text x="1451" y="841">referência</text></g>
<g class="lb"><rect x="892.8" y="464.2" width="13" height="9"/><text x="899.3" y="468.7">tem</text></g>
<g class="lb"><rect x="812.5" y="466.2" width="13" height="9"/><text x="819" y="470.7">tem</text></g>
<g class="lb"><rect x="893.5" y="468.8" width="13" height="9"/><text x="900" y="473.3">tem</text></g>
<g class="lb"><rect x="1068.7" y="467.5" width="24" height="9"/><text x="1080.7" y="472">regista</text></g>
<g class="lb"><rect x="1532" y="538.2" width="16" height="9"/><text x="1540" y="542.7">gera</text></g>
<g class="lb"><rect x="1667.15" y="493.2" width="15.3" height="9"/><text x="1674.8" y="497.7">abre</text></g>
<g class="lb"><rect x="1866.05" y="467.8" width="23.3" height="9"/><text x="1877.7" y="472.3">realiza</text></g>
<g class="lb"><rect x="1684" y="467.8" width="34.4" height="9"/><text x="1701.2" y="472.3">usado em</text></g>
<g class="lb"><rect x="1880.9" y="572.2" width="12.6" height="9"/><text x="1887.2" y="576.7">cria</text></g>
<g class="lb"><rect x="2169.65" y="544.2" width="19.1" height="9"/><text x="2179.2" y="548.7">envia</text></g>
<g class="lb"><rect x="2111.3" y="802.3" width="26" height="9"/><text x="2124.3" y="806.8">contém</text></g>
<g class="lb"><rect x="1948" y="1155.8" width="22" height="9"/><text x="1959" y="1160.3">anexa</text></g>
<g class="lb"><rect x="1968.5" y="934.5" width="51" height="9"/><text x="1994" y="939">versão anterior</text></g>
</g>
</svg>
